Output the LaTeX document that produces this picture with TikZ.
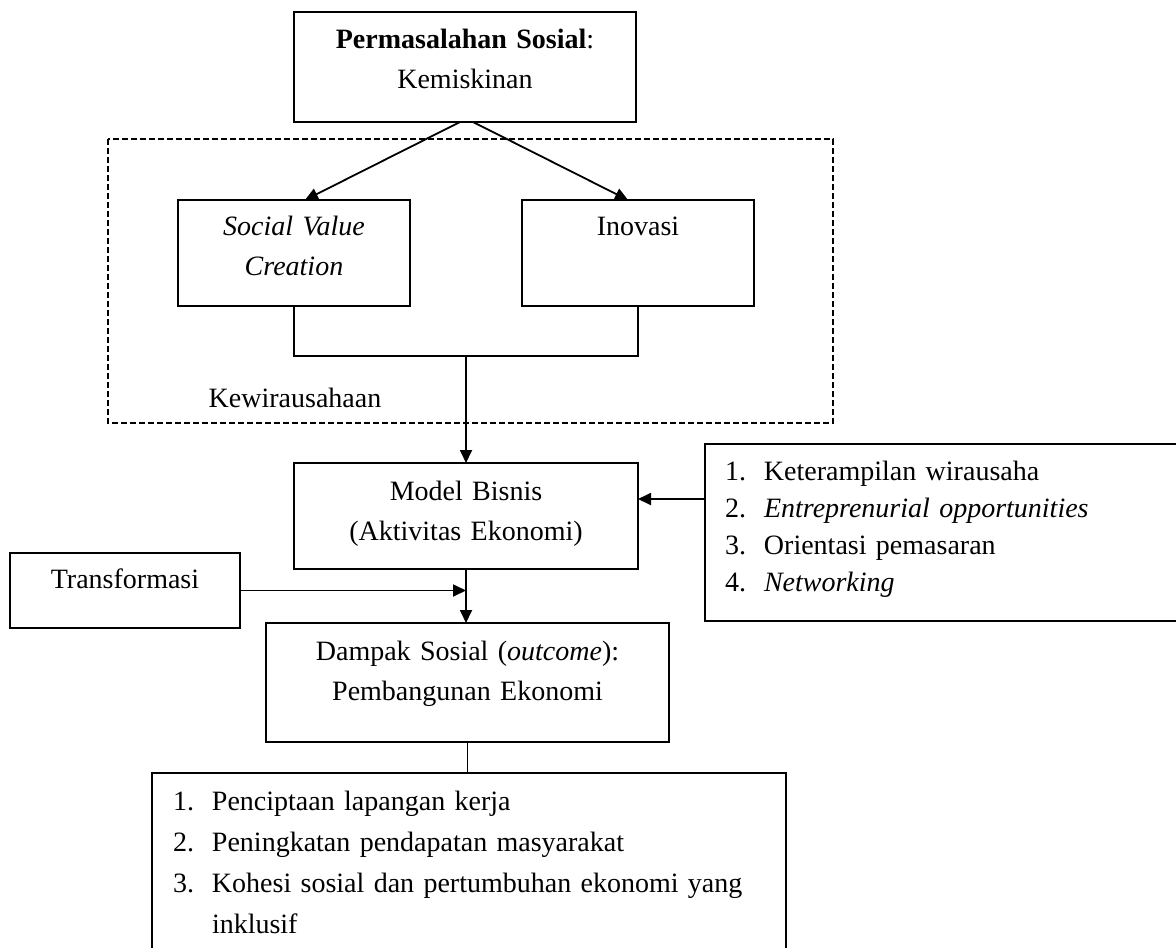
\documentclass[tikz,border=0pt]{standalone}
\usepackage{fontspec}
\setmainfont{Liberation Serif}
\usetikzlibrary{arrows.meta}
\tikzset{
  kotak/.style={draw, rectangle, line width=0.9pt, inner sep=0pt, outer sep=0pt, anchor=north west, align=center},
  panah/.style={line width=0.9pt, -{Triangle[length=6.5pt,width=6pt]}},
  garis/.style={line width=0.9pt}
}
\begin{document}
\begin{tikzpicture}[x=0.5pt, y=-0.5pt, font=\fontsize{14}{20}\selectfont]
        \useasboundingbox (0,0) rectangle (1176,947);
        % kotak kewirausahaan (putus-putus)
        \draw[dash pattern=on 3pt off 1.5pt, line width=0.9pt] (108,139) rectangle (833,423);
        \node[anchor=base] (kwu) at (295,407) {Kewirausahaan};
        % kotak-kotak utama
        \node[kotak, text width=171pt, text height=18.5pt, text depth=36.5pt] (masalah) at (294,12) {\textbf{Permasalahan Sosial}:\\Kemiskinan};
        \node[kotak, text width=116pt, text height=17.5pt, text depth=35.5pt] (svc) at (178,200) {\textit{Social Value}\\\textit{Creation}};
        \node[kotak, text width=116pt, text height=17.5pt, text depth=35.5pt] (inovasi) at (522,200) {Inovasi};
        \node[kotak, text width=172pt, text height=18.5pt, text depth=34.5pt] (model) at (294,463) {Model Bisnis\\(Aktivitas Ekonomi)};
        \node[kotak, text width=115pt, text height=17.5pt, text depth=20pt] (transf) at (10,553) {Transformasi};
        \node[kotak, text width=201.5pt, text height=18.5pt, text depth=41pt] (dampak) at (266,623) {Dampak Sosial (\textit{outcome}):\\Pembangunan Ekonomi};
        \node[kotak, align=left, inner xsep=10pt, text width=227.5pt, text height=18pt, text depth=70.5pt, font=\fontsize{14}{18.5}\selectfont] (faktor) at (705,444) {%
          \makebox[19.5pt][l]{1.}Keterampilan wirausaha\\
          \makebox[19.5pt][l]{2.}\textit{Entreprenurial opportunities}\\
          \makebox[19.5pt][l]{3.}Orientasi pemasaran\\
          \makebox[19.5pt][l]{4.}\textit{Networking}};
        \node[kotak, align=left, inner xsep=10.5pt, text width=296pt, text height=18.5pt, text depth=100pt, font=\fontsize{14}{20.5}\selectfont] (hasil) at (152,773) {%
          \makebox[19.5pt][l]{1.}Penciptaan lapangan kerja\\
          \makebox[19.5pt][l]{2.}Peningkatan pendapatan masyarakat\\
          \makebox[19.5pt][l]{3.}\makebox[275pt][s]{Kohesi sosial dan pertumbuhan ekonomi yang}\\
          \hspace*{19.5pt}inklusif};
        % penghubung
        \draw[panah] ([xshift=-2.5pt]masalah.south) -- ([xshift=5.5pt]svc.north);
        \draw[panah] ([xshift=4pt]masalah.south) -- ([xshift=-5pt]inovasi.north);
        \coordinate (gabung) at (466,356);
        \draw[garis] (svc.south) |- (gabung) -| (inovasi.south);
        \draw[panah] (gabung) -- (model.north);
        \coordinate (fk) at ([yshift=8.5pt]model.east);
        \draw[panah] (fk -| faktor.west) -- (fk);
        \draw[panah] (model.south) -- (model.south |- dampak.north);
        \draw[panah] (transf.east) -- (transf.east -| model.south);
        \draw[garis] (dampak.south) -- (dampak.south |- hasil.north);
      \end{tikzpicture}
\end{document}
